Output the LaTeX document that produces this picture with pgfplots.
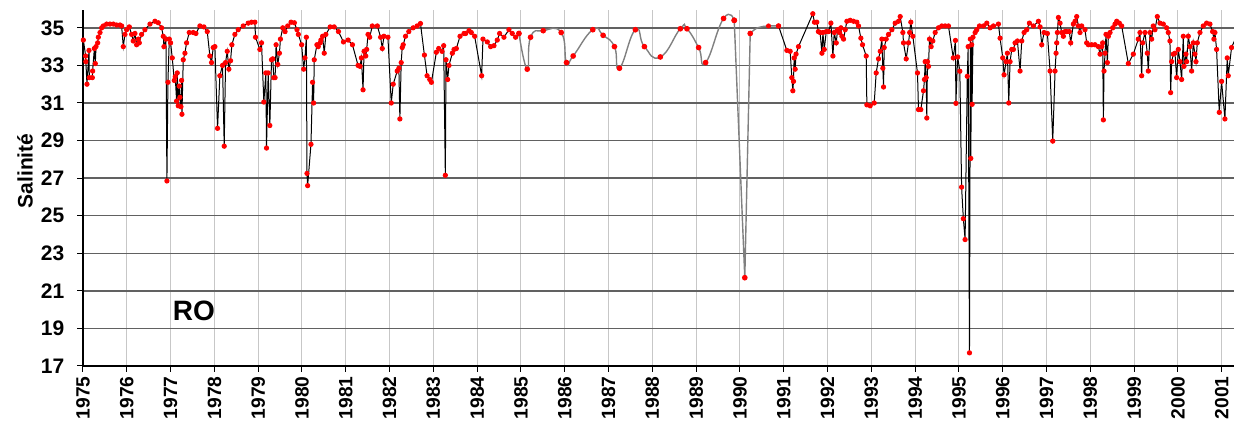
\documentclass[border=0pt]{standalone}
\usepackage{fontspec}
\setmainfont{Liberation Sans}
\usepackage{pgfplots}
\pgfplotsset{compat=1.18}
\begin{document}
\begin{tikzpicture}
\useasboundingbox (-41.5pt,-27.5pt) rectangle (575.5pt,183pt);
\begin{axis}[
 scale only axis, width=575.5pt, height=178pt,
 xmin=1975, xmax=2001.28, ymin=17, ymax=35.95,
 axis x line*=bottom, axis y line*=left,
 axis line style={black, line width=0.6pt},
 xtick={1975,1976,1977,1978,1979,1980,1981,1982,1983,1984,1985,1986,1987,1988,1989,1990,1991,1992,1993,1994,1995,1996,1997,1998,1999,2000,2001},
 xticklabels={1975,1976,1977,1978,1979,1980,1981,1982,1983,1984,1985,1986,1987,1988,1989,1990,1991,1992,1993,1994,1995,1996,1997,1998,1999,2000,2001},
 ytick={17,19,21,23,25,27,29,31,33,35},
 yticklabels={17,19,21,23,25,27,29,31,33,35},
 tick align=outside, major tick length=2.8pt, tick style={black, line width=0.5pt},
 xmajorgrids, ymajorgrids,
 x grid style={color=black!22, line width=0.5pt},
 y grid style={color=black!62, line width=0.7pt},
 ticklabel style={font=\fontsize{10.5}{12}\selectfont\bfseries},
 xticklabel style={font=\fontsize{9.6}{11}\selectfont\bfseries, rotate=90, anchor=east, xshift=-1.3pt, inner sep=1pt},
 yticklabel style={xshift=-3pt},
 ylabel={Salinité},
 ylabel style={font=\fontsize{10.5}{12}\selectfont\bfseries, at={(axis description cs:-0.0504,0.548)}, anchor=center},
 clip=true,
]
\addplot[black, line width=0.5pt, mark=*, mark size=1.05pt, mark options={red, fill=red, draw=red}] coordinates {
(1975.008,34.35)(1975.061,33.5)(1975.065,33.2)(1975.091,32.0)(1975.137,33.8)(1975.144,32.35)(1975.213,32.35)(1975.22,32.7)(1975.259,33.9)(1975.281,33.1)(1975.297,34.0)(1975.335,34.2)(1975.350,34.5)(1975.388,34.75)(1975.426,35.0)(1975.464,35.1)(1975.540,35.2)(1975.616,35.2)(1975.692,35.2)(1975.768,35.15)(1975.844,35.15)(1975.882,35.1)(1975.920,34.0)(1975.958,34.65)(1975.996,34.9)(1976.057,35.05)(1976.110,34.65)(1976.148,34.3)(1976.186,34.7)(1976.224,34.1)(1976.262,34.4)(1976.285,34.2)(1976.338,34.65)(1976.414,34.9)(1976.529,35.2)(1976.643,35.35)(1976.719,35.27)(1976.795,35.0)(1976.833,34.55)(1976.848,34.0)(1976.894,34.4)(1976.916,26.85)(1976.939,32.1)(1976.970,34.4)(1977.000,34.2)(1977.038,33.4)(1977.084,32.2)(1977.106,32.4)(1977.137,31.1)(1977.152,32.6)(1977.175,30.85)(1977.198,31.9)(1977.213,31.3)(1977.236,30.8)(1977.251,32.2)(1977.259,30.4)(1977.289,33.3)(1977.327,33.65)(1977.365,34.2)(1977.426,34.75)(1977.517,34.75)(1977.578,34.7)(1977.669,35.1)(1977.760,35.05)(1977.837,34.8)(1977.897,33.5)(1977.935,33.15)(1977.973,33.95)(1978.011,34.0)(1978.072,29.65)(1978.125,32.45)(1978.186,33.0)(1978.224,28.7)(1978.255,33.15)(1978.293,33.75)(1978.331,32.8)(1978.369,33.25)(1978.399,34.1)(1978.468,34.65)(1978.544,34.9)(1978.658,35.1)(1978.772,35.25)(1978.848,35.3)(1978.924,35.3)(1978.939,34.5)(1979.038,33.85)(1979.076,34.2)(1979.129,31.05)(1979.175,32.6)(1979.190,28.6)(1979.228,32.6)(1979.266,29.8)(1979.304,33.3)(1979.333,33.35)(1979.356,32.35)(1979.386,32.35)(1979.409,34.1)(1979.447,33.05)(1979.485,33.65)(1979.508,34.4)(1979.561,35.0)(1979.614,34.8)(1979.674,35.1)(1979.750,35.3)(1979.826,35.27)(1979.886,34.9)(1979.917,34.65)(1979.992,34.1)(1980.038,32.8)(1980.068,33.4)(1980.10,34.5)(1980.114,27.25)(1980.129,26.6)(1980.205,28.8)(1980.242,32.1)(1980.265,31.0)(1980.28,33.3)(1980.341,34.1)(1980.371,34.0)(1980.417,34.2)(1980.432,34.35)(1980.470,34.55)(1980.508,33.65)(1980.545,34.65)(1980.644,35.05)(1980.735,35.05)(1980.833,34.8)(1980.947,34.25)(1981.053,34.35)(1981.152,34.1)(1981.280,33.0)(1981.326,32.95)(1981.356,33.4)(1981.394,31.7)(1981.417,33.75)(1981.455,33.5)(1981.477,33.85)(1981.508,34.65)(1981.545,34.5)(1981.606,35.1)(1981.720,35.1)(1981.795,34.5)(1981.833,33.9)(1981.871,34.55)(1981.962,34.5)(1982.038,31.0)(1982.083,32.0)(1982.174,32.7)(1982.212,32.85)(1982.235,30.15)(1982.265,33.15)(1982.288,33.95)(1982.311,34.1)(1982.364,34.55)(1982.439,34.8)(1982.538,35.0)(1982.629,35.1)(1982.705,35.23)(1982.795,33.55)(1982.856,32.45)(1982.917,32.25)(1982.955,32.1)(1983.068,33.7)(1983.121,33.9)(1983.197,33.75)(1983.235,34.05)(1983.273,27.15)(1983.288,33.3)(1983.326,32.25)(1983.356,33.0)(1983.433,33.65)(1983.471,33.85)(1983.524,33.9)(1983.608,34.55)(1983.699,34.7)(1983.737,34.7)(1983.813,34.85)(1983.866,34.75)(1983.942,34.55)(1984.102,32.45)(1984.132,34.4)(1984.231,34.25)(1984.307,34.0)(1984.383,34.05)(1984.459,34.35)(1984.512,34.7)(1984.611,34.5)(1984.725,34.9)(1984.801,34.7)(1984.877,34.5)(1984.953,34.7)
};
\addplot[gray, line width=0.7pt, smooth, tension=0.9, mark=*, mark size=1.05pt, mark options={red, fill=red, draw=red}] coordinates {
(1984.953,34.7)(1985.143,32.8)(1985.219,34.5)(1985.508,34.85)(1985.918,34.75)(1986.040,33.15)(1986.191,33.5)(1986.640,34.9)(1986.875,34.6)(1987.134,34.0)(1987.248,32.85)(1987.612,34.9)(1987.818,34.0)(1988.182,33.45)(1988.638,34.95)(1988.790,34.95)(1989.056,33.95)(1989.216,33.15)(1989.626,35.5)(1989.869,35.4)
};
\addplot[gray, line width=0.7pt, mark=*, mark size=1.05pt, mark options={red, fill=red, draw=red}] coordinates {
(1989.869,35.4)(1990.11,21.7)(1990.234,34.7)
};
\addplot[gray, line width=0.7pt, smooth, tension=0.7, no marks] coordinates {
(1990.234,34.7)(1990.40,35.0)(1990.652,35.1)(1990.880,35.1)
};
\addplot[only marks, mark=*, mark size=1.05pt, mark options={red, fill=red, draw=red}] coordinates {
(1990.652,35.1)(1990.880,35.1)
};
\addplot[black, line width=0.5pt, mark=*, mark size=1.05pt, mark options={red, fill=red, draw=red}] coordinates {
(1990.880,35.1)(1991.070,33.8)(1991.146,33.75)(1991.184,32.35)(1991.207,31.65)(1991.222,32.15)(1991.237,33.4)(1991.26,32.8)(1991.28,33.6)(1991.336,34.0)(1991.663,35.75)(1991.70,35.3)(1991.754,35.3)(1991.79,34.8)(1991.83,34.75)(1991.871,33.65)(1991.894,34.75)(1991.924,33.85)(1991.97,34.8)(1992.023,34.8)(1992.076,35.25)(1992.122,33.5)(1992.152,34.75)(1992.198,34.2)(1992.228,34.9)(1992.274,34.75)(1992.304,35.0)(1992.327,34.55)(1992.365,34.4)(1992.403,34.9)(1992.441,35.35)(1992.517,35.4)(1992.593,35.35)(1992.669,35.3)(1992.707,35.1)(1992.760,34.45)(1992.798,34.1)(1992.882,33.5)(1992.897,30.9)(1992.973,30.85)(1993.065,31.0)(1993.110,32.6)(1993.163,33.35)(1993.202,33.75)(1993.240,34.4)(1993.262,32.85)(1993.278,31.85)(1993.293,33.95)(1993.338,34.4)(1993.392,34.65)(1993.468,34.9)(1993.544,35.25)(1993.620,35.35)(1993.658,35.6)(1993.719,34.75)(1993.734,34.2)(1993.795,33.35)(1993.848,34.2)(1993.875,34.75)(1993.901,35.3)(1993.947,34.55)(1994.053,32.6)(1994.076,30.65)(1994.129,30.65)(1994.190,31.65)(1994.213,32.25)(1994.228,33.2)(1994.251,32.35)(1994.266,30.2)(1994.281,33.2)(1994.304,32.95)(1994.327,34.4)(1994.365,34.0)(1994.403,34.3)(1994.456,34.75)(1994.532,35.0)(1994.608,35.1)(1994.684,35.1)(1994.760,35.1)(1994.87,33.4)(1994.92,34.33)(1994.93,30.98)(1994.97,33.45)(1995.02,32.69)(1995.06,26.52)(1995.10,24.84)(1995.14,23.73)(1995.19,32.42)(1995.21,34.0)(1995.24,17.7)(1995.26,34.4)(1995.27,28.05)(1995.29,34.1)(1995.30,30.93)(1995.32,34.5)(1995.369,34.75)(1995.407,34.9)(1995.468,35.1)(1995.559,35.1)(1995.635,35.25)(1995.711,35.0)(1995.787,35.1)(1995.901,35.2)(1995.939,34.45)(1996.0,33.4)(1996.030,32.5)(1996.076,33.2)(1996.106,33.65)(1996.137,31.0)(1996.167,33.2)(1996.205,33.85)(1996.243,33.85)(1996.281,34.2)(1996.335,34.3)(1996.395,32.7)(1996.433,34.3)(1996.487,34.75)(1996.548,34.9)(1996.608,35.25)(1996.700,35.1)(1996.814,35.35)(1996.852,35.05)(1996.890,34.1)(1996.943,34.75)(1997.019,34.7)(1997.080,32.7)(1997.141,28.97)(1997.194,32.7)(1997.217,33.65)(1997.232,34.2)(1997.247,34.75)(1997.270,35.55)(1997.308,35.25)(1997.346,34.75)(1997.384,34.55)(1997.422,34.8)(1997.460,34.8)(1997.521,34.8)(1997.551,34.2)(1997.612,35.2)(1997.650,35.35)(1997.688,35.6)(1997.726,35.1)(1997.764,34.75)(1997.802,35.1)(1997.878,34.9)(1997.916,34.2)(1997.954,34.1)(1998.030,34.1)(1998.106,34.1)(1998.183,34.0)(1998.221,33.6)(1998.259,34.0)(1998.281,34.2)(1998.297,30.1)(1998.312,32.7)(1998.335,33.65)(1998.357,34.65)(1998.388,33.15)(1998.411,34.55)(1998.449,34.75)(1998.510,35.0)(1998.563,35.2)(1998.601,35.35)(1998.662,35.25)(1998.715,35.1)(1998.867,33.1)(1998.981,33.6)(1999.095,34.4)(1999.133,34.75)(1999.171,32.45)(1999.194,34.2)(1999.247,34.75)(1999.300,33.65)(1999.323,32.7)(1999.361,34.75)(1999.399,34.4)(1999.437,35.1)(1999.475,34.9)(1999.529,35.6)(1999.589,35.25)(1999.665,35.2)(1999.741,35.0)(1999.779,34.75)(1999.817,34.3)(1999.833,31.55)(1999.856,33.2)(1999.894,33.6)(1999.932,33.65)(1999.970,32.35)(2000.008,33.85)(2000.046,33.2)(2000.084,32.25)(2000.122,34.55)(2000.137,32.95)(2000.183,33.6)(2000.198,33.2)(2000.236,34.55)(2000.274,34.0)(2000.312,32.7)(2000.350,34.2)(2000.388,33.6)(2000.411,33.2)(2000.441,34.2)(2000.502,34.75)(2000.578,35.1)(2000.654,35.25)(2000.730,35.2)(2000.791,34.8)(2000.821,34.4)(2000.844,34.75)(2000.882,33.85)(2000.943,30.5)(2000.996,32.15)(2001.072,30.15)(2001.125,33.4)(2001.148,32.45)(2001.224,33.95)
};
\addplot[black, line width=0.5pt, no marks] coordinates {(2001.224,33.95)(2001.40,34.9)};
\node[font=\fontsize{14}{16}\selectfont\bfseries] at (axis cs:1977.53,19.92) {RO};
\end{axis}
\end{tikzpicture}
\end{document}
